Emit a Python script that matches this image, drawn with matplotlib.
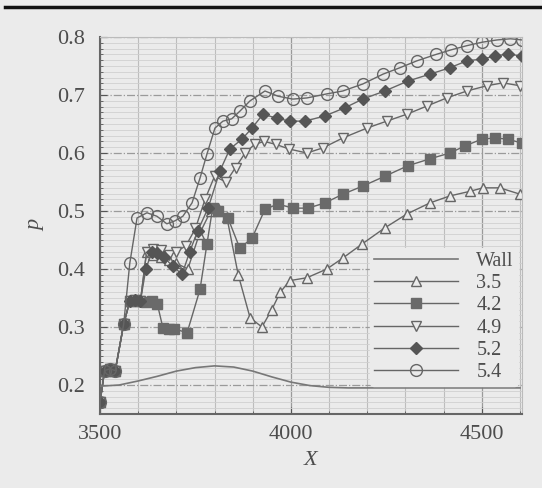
import numpy as np
import matplotlib
matplotlib.use("Agg")
import matplotlib.pyplot as plt
from matplotlib.lines import Line2D

# wall pressure
wall_x = [3500, 3550, 3600, 3650, 3700, 3750, 3800, 3850, 3900, 3950, 4000,
          4050, 4100, 4150, 4200, 4300, 4400, 4500, 4600]
wall_y = [0.198, 0.200, 0.207, 0.215, 0.224, 0.230, 0.233, 0.231, 0.224, 0.214,
          0.205, 0.199, 0.196, 0.195, 0.195, 0.195, 0.195, 0.195, 0.195]

x35 = [3500, 3512, 3526, 3540, 3562, 3578, 3592, 3606, 3622, 3640, 3660, 3680, 3700,
       3730, 3760, 3790, 3810, 3832, 3862, 3893, 3924, 3950, 3972, 3997, 4042, 4094,
       4136, 4186, 4246, 4304, 4364, 4416, 4469, 4503, 4547, 4600]
y35 = [0.17, 0.225, 0.228, 0.225, 0.305, 0.345, 0.347, 0.345, 0.43, 0.425, 0.42, 0.415,
       0.41, 0.40, 0.46, 0.50, 0.505, 0.49, 0.39, 0.316, 0.30, 0.33, 0.36, 0.38, 0.385,
       0.40, 0.419, 0.443, 0.471, 0.495, 0.514, 0.526, 0.534, 0.54, 0.54, 0.529]

x42 = [3500, 3512, 3526, 3540, 3562, 3578, 3592, 3606, 3620, 3635, 3650, 3665, 3680,
       3695, 3728, 3762, 3780, 3795, 3809, 3835, 3866, 3898, 3932, 3966, 4005, 4045,
       4089, 4136, 4188, 4246, 4306, 4364, 4416, 4455, 4500, 4534, 4568, 4605]
y42 = [0.17, 0.225, 0.228, 0.225, 0.305, 0.345, 0.347, 0.345, 0.343, 0.345, 0.340,
       0.298, 0.297, 0.297, 0.29, 0.365, 0.443, 0.505, 0.50, 0.488, 0.436, 0.453, 0.503,
       0.512, 0.505, 0.505, 0.514, 0.529, 0.543, 0.560, 0.578, 0.590, 0.60, 0.612,
       0.624, 0.626, 0.624, 0.617]

x49 = [3500, 3512, 3526, 3540, 3562, 3578, 3592, 3606, 3622, 3640, 3660, 3680, 3700,
       3725, 3750, 3775, 3800, 3830, 3855, 3880, 3905, 3930, 3960, 3995, 4042, 4084,
       4136, 4199, 4251, 4304, 4356, 4408, 4461, 4513, 4555, 4600]
y49 = [0.17, 0.225, 0.228, 0.225, 0.305, 0.345, 0.347, 0.345, 0.43, 0.435, 0.432,
       0.425, 0.43, 0.44, 0.47, 0.52, 0.56, 0.55, 0.575, 0.60, 0.615, 0.62, 0.615, 0.607,
       0.60, 0.609, 0.626, 0.643, 0.655, 0.667, 0.681, 0.695, 0.707, 0.716, 0.721, 0.716]

x52 = [3500, 3512, 3526, 3540, 3562, 3578, 3592, 3606, 3620, 3636, 3650, 3668, 3690,
       3715, 3735, 3756, 3783, 3814, 3840, 3872, 3898, 3927, 3963, 3997, 4037, 4089,
       4141, 4188, 4246, 4306, 4364, 4416, 4461, 4500, 4534, 4568, 4605]
y52 = [0.17, 0.225, 0.228, 0.225, 0.305, 0.345, 0.347, 0.345, 0.40, 0.43, 0.428, 0.42,
       0.405, 0.391, 0.43, 0.466, 0.505, 0.569, 0.607, 0.624, 0.643, 0.667, 0.660,
       0.655, 0.655, 0.664, 0.678, 0.693, 0.707, 0.724, 0.736, 0.747, 0.759, 0.762,
       0.767, 0.771, 0.767]

x54 = [3500, 3512, 3526, 3540, 3562, 3578, 3597, 3623, 3649, 3675, 3696, 3717, 3741,
       3762, 3780, 3801, 3822, 3845, 3866, 3893, 3932, 3966, 4005, 4042, 4094, 4136,
       4188, 4241, 4285, 4330, 4380, 4420, 4460, 4500, 4540, 4575, 4605]
y54 = [0.17, 0.225, 0.228, 0.225, 0.305, 0.41, 0.488, 0.497, 0.491, 0.478, 0.483,
       0.491, 0.514, 0.557, 0.598, 0.643, 0.655, 0.659, 0.672, 0.690, 0.707, 0.698,
       0.693, 0.695, 0.702, 0.707, 0.719, 0.736, 0.747, 0.759, 0.770, 0.778, 0.785,
       0.791, 0.795, 0.797, 0.795]

bg = "#ebebeb"
lc = "#666666"
serif = ["Liberation Serif", "DejaVu Serif"]

plt.rcParams["font.family"] = serif
fig = plt.figure(figsize=(5.42, 4.88), dpi=100, facecolor=bg)
ax = fig.add_axes([0.1845, 0.1516, 0.7785, 0.7725], facecolor=bg)

ax.plot(wall_x, wall_y, color="#777777", lw=1.2, label="Wall", zorder=3)
ax.plot(x35, y35, color=lc, lw=1, marker="^", ms=6.5, mfc=bg, mec=lc, label="3.5")
ax.plot(x42, y42, color=lc, lw=1, marker="s", ms=6.5, mfc="#6a6a6a", mec="#6a6a6a", label="4.2")
ax.plot(x49, y49, color=lc, lw=1, marker="v", ms=6.5, mfc=bg, mec=lc, label="4.9")
ax.plot(x52, y52, color=lc, lw=1, marker="D", ms=6.5, mfc="#555555", mec="#555555", label="5.2")
ax.plot(x54, y54, color=lc, lw=1, marker="o", ms=8.5, mfc="none", mec=lc, label="5.4")

ax.set_xlim(3500, 4605)
ax.set_ylim(0.15, 0.8)
ax.set_xticks([3500, 4000, 4500])
ax.set_xticks(np.arange(3500, 4601, 100), minor=True)
ax.set_yticks(np.arange(0.2, 0.81, 0.1))
ax.set_yticks(np.arange(0.15, 0.801, 0.01), minor=True)
ax.set_yticklabels(["0.2", "0.3", "0.4", "0.5", "0.6", "0.7", "0.8"])

ax.grid(True, which="minor", axis="y", color="#d0d0d0", lw=0.6)
ax.grid(True, which="minor", axis="x", color="#bdbdbd", lw=0.8)
ax.grid(True, which="major", axis="y", color="#9a9a9a", lw=0.9, ls="-.")
ax.grid(True, which="major", axis="x", color="#9a9a9a", lw=0.9)

ax.tick_params(which="both", direction="in", colors="#555555", labelcolor="#4d4d4d")
ax.tick_params(which="major", length=5, labelsize=16)
ax.tick_params(axis="y", which="major", pad=11)
ax.tick_params(axis="x", which="major", pad=8)
ax.tick_params(which="minor", length=2.5)
for s in ["left", "bottom"]:
    ax.spines[s].set_color("#666666")
    ax.spines[s].set_linewidth(1.5)
for s in ["top", "right"]:
    ax.spines[s].set_color("#bbbbbb")
    ax.spines[s].set_linewidth(0.8)

ax.set_xlabel("X", fontsize=16, style="italic", color="#4d4d4d", labelpad=5)
ax.set_ylabel("p", fontsize=16, style="italic", color="#4d4d4d", labelpad=8)

leg = ax.legend(loc="lower right", bbox_to_anchor=(1.0, 0.064), fontsize=14.5,
                frameon=True, facecolor=bg, edgecolor=bg, framealpha=1,
                handlelength=4.2, handletextpad=0.9, labelspacing=0.15,
                borderpad=0.2, borderaxespad=0.2)
for t in leg.get_texts():
    t.set_color("#4d4d4d")

fig.add_artist(Line2D([0.01, 1.0], [1 - 7 / 488, 1 - 7 / 488], color="#111111", lw=2.5))

fig.savefig("out.png", dpi=100, facecolor=bg)
